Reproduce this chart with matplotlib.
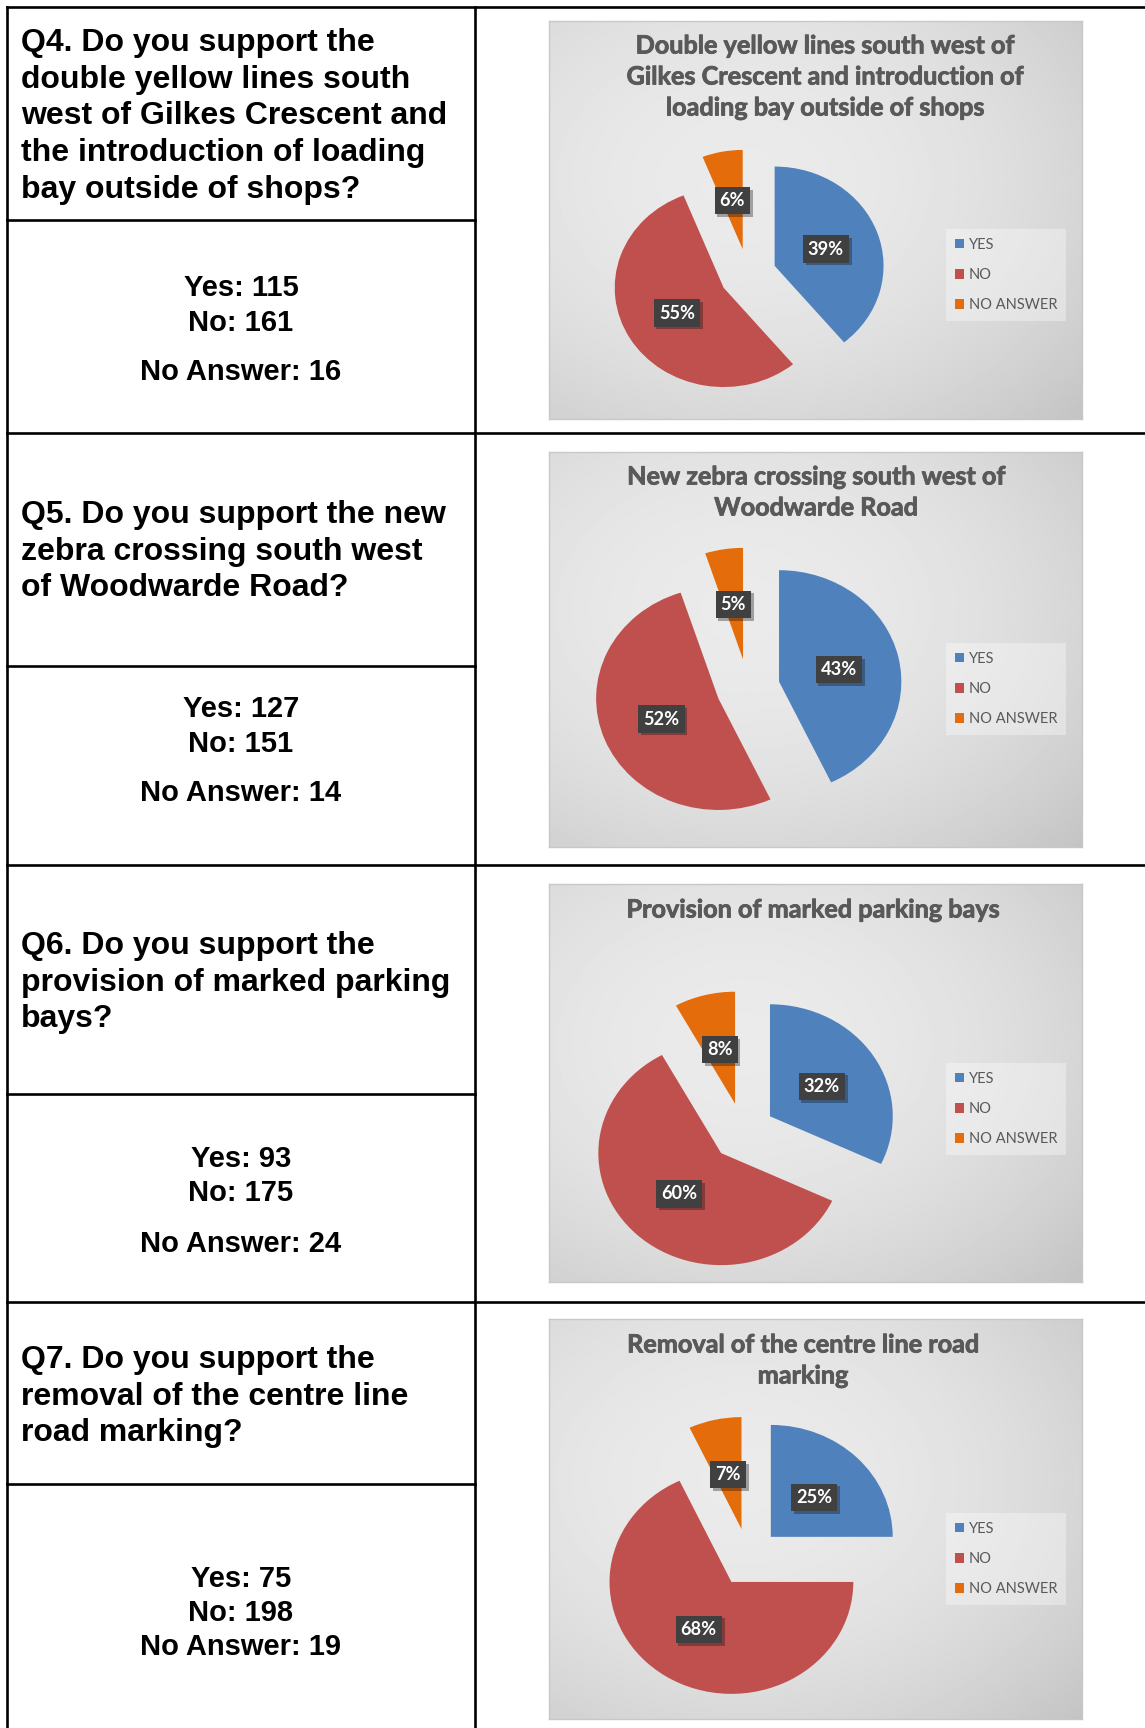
import numpy as np
import matplotlib.pyplot as plt
from matplotlib import patheffects
from matplotlib import font_manager as fm
from matplotlib.lines import Line2D

# survey answers per question (Q4..Q7)
questions = [
    ["Q4. Do you support the", "double yellow lines south",
     "west of Gilkes Crescent and", "the introduction of loading",
     "bay outside of shops?"],
    ["Q5. Do you support the new", "zebra crossing south west",
     "of Woodwarde Road?"],
    ["Q6. Do you support the", "provision of marked parking", "bays?"],
    ["Q7. Do you support the", "removal of the centre line",
     "road marking?"],
]
yes_counts = [115, 127, 93, 75]
no_counts = [161, 151, 175, 198]
no_answer_counts = [16, 14, 24, 19]

chart_titles = [
    ["Double yellow lines south west of", "Gilkes Crescent and introduction of",
     "loading bay outside of shops"],
    ["New zebra crossing south west of", "Woodwarde Road"],
    ["Provision of marked parking bays"],
    ["Removal of the centre line road", "marking"],
]
categories = ["YES", "NO", "NO ANSWER"]
yes_pct = [39, 43, 32, 25]
no_pct = [55, 52, 60, 68]
no_answer_pct = [6, 5, 8, 7]

colors = ["#4F81BD", "#C0504D", "#E46C0A"]

W, H = 1145, 1728
fig = plt.figure(figsize=(W / 100, H / 100), dpi=100)
fig.patch.set_facecolor("white")
renderer = fig.canvas.get_renderer()


def rect(x0, y0, x1, y1):
    return [x0 / W, 1 - y1 / H, (x1 - x0) / W, (y1 - y0) / H]


def fx(x):
    return x / W


def fy(y):
    return 1 - y / H


def has_bold(name):
    for f in fm.fontManager.ttflist:
        if f.name == name:
            w = f.weight
            if isinstance(w, str):
                w = fm.weight_dict.get(w, 400)
            if w >= 600:
                return True
    return False


# chart font: a humanist sans with a real bold face
chart_font = next((n for n in ["Lato", "Open Sans", "Noto Sans", "Roboto"]
                   if has_bold(n)), "DejaVu Sans")

# size the titles so the one-line title is ~374 px wide
probe = fig.text(0, 0, chart_titles[2][0], family=chart_font,
                 fontweight="bold", fontsize=10)
title_size = 10 * 374 / probe.get_window_extent(renderer=renderer).width
probe.remove()
label_size = title_size * 0.72

title_fx = [patheffects.withStroke(linewidth=0.6, foreground="#595959")]

# page axes in pixel units, y pointing down
page = fig.add_axes([0, 0, 1, 1])
page.set_xlim(0, W)
page.set_ylim(H, 0)
page.axis("off")

# table grid
lw = 1.9
def hline(y, x0, x1):
    page.add_line(Line2D([x0, x1], [y, y], color="black", lw=lw))

def vline(x, y0, y1):
    page.add_line(Line2D([x, x], [y0, y1], color="black", lw=lw))

hline(7, 7, W)
for y in [433, 865, 1302]:
    hline(y, 7, W)
for y in [220, 666, 1094, 1484]:
    hline(y, 7, 475)
vline(7, 7, H)
vline(475, 7, H)

# left column text
q_top = [43, 515, 946, 1360]
line_step = 36.7
count_rows = [
    [288, 323, 372],
    [709, 744, 793],
    [1159, 1193, 1244],
    [1579, 1613, 1647],
]
q_kw = dict(family="Liberation Sans", fontweight="bold", fontsize=23,
            color="black", va="center")
c_kw = dict(q_kw, fontsize=21, ha="center")
for i, lines in enumerate(questions):
    for j, line in enumerate(lines):
        page.text(21, q_top[i] + j * line_step, line, ha="left", **q_kw)
    ys = count_rows[i]
    page.text(241, ys[0], f"Yes: {yes_counts[i]}", **c_kw)
    page.text(241, ys[1], f"No: {no_counts[i]}", **c_kw)
    page.text(241, ys[2], f"No Answer: {no_answer_counts[i]}", **c_kw)

# chart panels
panels = [(549, 21, 1082, 419), (549, 452, 1082, 847),
          (549, 884, 1082, 1282), (549, 1319, 1082, 1719)]
title_pos = [(825, 46), (816, 477), (813, 910), (803, 1345)]
title_step = 31
pie_centres = [(748, 274.6), (748, 687.9), (743, 1131.9), (748.4, 1557.4)]
pie_rx = [108.9, 122.3, 122.8, 121.9]
pie_ry = [99.3, 111.4, 112.0, 111.9]
legend_pos = [(946, 229), (946, 643), (946, 1063), (946, 1513)]

# soft grey backdrop shared by every chart
gx, gy = np.meshgrid(np.linspace(-1, 1, 300), np.linspace(-1, 1, 300))
shade = (0.915 - 0.05 * ((gx + 0.15) ** 2 + (gy + 0.05) ** 2)
         - 0.015 * gy - 0.012 * gx)

for k, (x0, y0, x1, y1) in enumerate(panels):
    bg = fig.add_axes(rect(x0, y0, x1, y1))
    bg.imshow(shade, cmap="gray", vmin=0, vmax=1, aspect="auto",
              extent=[0, 1, 0, 1], interpolation="bilinear")
    bg.set_xticks([])
    bg.set_yticks([])
    for s in bg.spines.values():
        s.set_color("#C8C8C8")
        s.set_linewidth(1.0)

    tx, ty = title_pos[k]
    for j, line in enumerate(chart_titles[k]):
        fig.text(fx(tx), fy(ty + j * title_step), line, ha="center",
                 va="center", family=chart_font, fontweight="bold",
                 fontsize=title_size, color="#595959", zorder=5,
                 path_effects=title_fx)

    cx, cy = pie_centres[k]
    rx, ry = pie_rx[k], pie_ry[k]
    span = 1.6
    ax = fig.add_axes(rect(cx - span * rx, cy - span * ry,
                           cx + span * rx, cy + span * ry))
    ax.patch.set_alpha(0)
    vals = [yes_pct[k], no_pct[k], no_answer_pct[k]]
    wedges, _, autotexts = ax.pie(
        vals, colors=colors, startangle=90, counterclock=False,
        explode=[0.26] * 3, autopct=lambda p: f"{p:.0f}%", pctdistance=0.5,
        wedgeprops=dict(linewidth=0))
    ax.set_aspect("auto")
    ax.set_xlim(-span, span)
    ax.set_ylim(-span, span)
    for t in autotexts:
        t.set(color="white", fontsize=label_size, fontweight="bold",
              family=chart_font)
        t.set_bbox(dict(boxstyle="square,pad=0.28", fc="#404040", ec="none"))
        t.get_bbox_patch().set_path_effects(
            [patheffects.withSimplePatchShadow(offset=(2, -2), alpha=0.35),
             patheffects.Normal()])

    lx, ly = legend_pos[k]
    leg = ax.legend(wedges, categories, loc="upper left",
                    bbox_to_anchor=(fx(lx), fy(ly)),
                    bbox_transform=fig.transFigure, frameon=True,
                    fancybox=False, fontsize=10.5, handlelength=0.65,
                    handleheight=0.65, handletextpad=0.3, labelspacing=1.1,
                    borderpad=0.6, borderaxespad=0)
    leg.get_frame().set_facecolor("white")
    leg.get_frame().set_alpha(0.35)
    leg.get_frame().set_edgecolor("none")
    for t in leg.get_texts():
        t.set(color="#595959", family=chart_font)

fig.savefig("out.png", dpi=100, facecolor="white")
